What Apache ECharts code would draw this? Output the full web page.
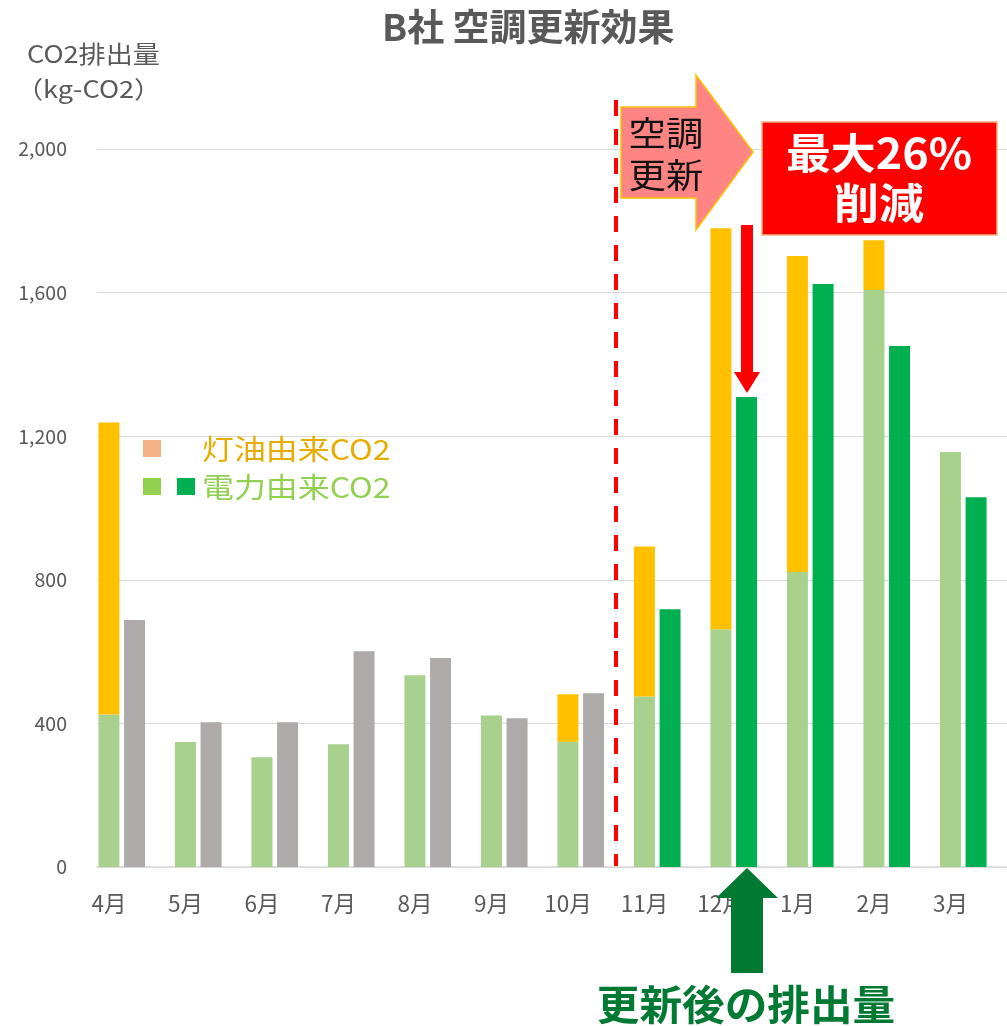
<!DOCTYPE html>
<html>
<head>
<meta charset="utf-8">
<script src="https://cdn.jsdelivr.net/npm/echarts@6/dist/echarts.min.js"></script>
<style>
  html, body { margin: 0; padding: 0; background: #fff; }
  #chart { width: 1007px; height: 1026px; }
</style>
</head>
<body>
<div id="chart"></div>
<script>
// 月（年度：4月〜3月）
const months = ['4月', '5月', '6月', '7月', '8月', '9月', '10月', '11月', '12月', '1月', '2月', '3月']
// 電力由来CO2（左の棒・下段）
const electricity = [425, 348, 306, 342, 534, 422, 349, 475, 662, 822, 1607, 1156]
// 灯油由来CO2（左の棒・上段）
const kerosene = [813, null, null, null, null, null, 132, 418, 1117, 880, 139, null]
// 右の棒：更新前（前年）と更新後
const beforeUpdate = [688, 403, 403, 601, 582, 414, 484, null, null, null, null, null]
const afterUpdate = [null, null, null, null, null, null, null, 718, 1309, 1624, 1451, 1030]

const FONT = '"Noto Sans CJK JP", "Noto Sans", sans-serif'
const GRAY_TEXT = '#595959'

const chart = echarts.init(document.getElementById('chart'))

// 横に少し広い元画像の文字に合わせるためのテキスト
const label = (x, y, text, font, fill, extra) => Object.assign({
  type: 'text', x, y, z: 10,
  style: { text, font: font + ' ' + FONT, fill }
}, extra)

const option = {
  animation: false,
  textStyle: { fontFamily: FONT },
  title: {
    text: 'B社 空調更新効果',
    left: 377,
    top: 3,
    textStyle: { fontSize: 37, fontWeight: 'bold', color: GRAY_TEXT, fontFamily: FONT }
  },
  grid: [
    // 目盛線用
    { left: 97, right: 0, top: 149, bottom: 159 },
    // 棒用
    { left: 83.5, right: 5.5, top: 149, bottom: 159 }
  ],
  xAxis: [
    {
      gridIndex: 0,
      type: 'category',
      data: months,
      axisLabel: { show: false },
      axisTick: { show: false },
      axisLine: { lineStyle: { color: '#d9d9d9', width: 1.5 } }
    },
    {
      gridIndex: 1,
      type: 'category',
      data: months,
      axisLine: { show: false },
      axisTick: { show: false },
      axisLabel: {
        color: GRAY_TEXT,
        fontSize: 22.5,
        margin: 25,
        padding: [0, 25.6, 0, 0]
      }
    }
  ],
  yAxis: [
    {
      gridIndex: 0,
      type: 'value',
      min: 0,
      max: 2000,
      interval: 400,
      axisLine: { show: false },
      axisTick: { show: false },
      axisLabel: {
        color: GRAY_TEXT,
        fontSize: 19.5,
        margin: 30,
        formatter: v => v.toLocaleString('en-US')
      },
      splitLine: { lineStyle: { color: '#d9d9d9', width: 1 } }
    },
    {
      gridIndex: 1,
      type: 'value',
      min: 0,
      max: 2000,
      show: false,
      splitLine: { show: false }
    }
  ],
  series: [
    {
      name: '電力由来CO2',
      type: 'bar',
      xAxisIndex: 1,
      yAxisIndex: 1,
      stack: 'left',
      barWidth: 21,
      barGap: '22%',
      itemStyle: { color: '#A9D18E' },
      data: electricity
    },
    {
      name: '灯油由来CO2',
      type: 'bar',
      xAxisIndex: 1,
      yAxisIndex: 1,
      stack: 'left',
      barWidth: 21,
      itemStyle: { color: '#FFC000' },
      data: kerosene
    },
    {
      name: '更新前',
      type: 'bar',
      xAxisIndex: 1,
      yAxisIndex: 1,
      stack: 'right',
      barWidth: 21,
      itemStyle: { color: '#AEAAAA' },
      data: beforeUpdate
    },
    {
      name: '更新後',
      type: 'bar',
      xAxisIndex: 1,
      yAxisIndex: 1,
      stack: 'right',
      barWidth: 21,
      itemStyle: { color: '#00B050' },
      data: afterUpdate
    }
  ],
  graphic: [
    // 縦軸の単位
    label(27, 42, 'CO2排出量', '24px', GRAY_TEXT, { scaleX: 1.13 }),
    label(16, 77, '（kg-CO2）', '24px', GRAY_TEXT, { scaleX: 1.13 }),
    // 凡例
    { type: 'rect', shape: { x: 143, y: 440, width: 18, height: 17 }, style: { fill: '#F4B183' } },
    label(202, 449, '灯油由来CO2', '28px', '#E8AC00', { scaleX: 1.14 }),
    { type: 'rect', shape: { x: 143, y: 478, width: 18, height: 17 }, style: { fill: '#92D050' } },
    { type: 'rect', shape: { x: 177, y: 478, width: 18, height: 17 }, style: { fill: '#00B050' } },
    label(202, 487, '電力由来CO2', '28px', '#92D050', { scaleX: 1.14 }),
    // 空調更新の区切り線
    {
      type: 'line', z: 5,
      shape: { x1: 616, y1: 100, x2: 616, y2: 866 },
      style: { stroke: '#FF0000', lineWidth: 4, lineDash: [16, 13] }
    },
    // 空調更新 矢印
    {
      type: 'polygon', z: 6,
      shape: { points: [[621, 107], [696, 107], [696, 75], [753, 152], [696, 230], [696, 198], [621, 198]] },
      style: { fill: '#FF8585', stroke: '#FFC000', lineWidth: 1.5 }
    },
    label(666, 133, '空調', '34px', '#111', { scaleX: 1.1, z: 7 }),
    label(666, 175, '更新', '34px', '#111', { scaleX: 1.1, z: 7 }),
    // 削減の矢印
    {
      type: 'polygon', z: 6,
      shape: { points: [[741, 225], [753, 225], [753, 372], [760, 372], [747, 393], [734, 372], [741, 372]] },
      style: { fill: '#FF0000' }
    },
    // 最大26%削減
    {
      type: 'rect', z: 7,
      shape: { x: 762, y: 122, width: 235, height: 113 },
      style: { fill: '#FF0000', stroke: '#F4B183', lineWidth: 1.5 }
    },
    label(879, 153, '最大26%', 'bold 42px', '#fff', { scaleX: 1.07, z: 8 }),
    label(879, 203, '削減', 'bold 42px', '#fff', { scaleX: 1.07, z: 8 }),
    // 更新後の排出量 矢印
    {
      type: 'polygon', z: 6,
      shape: { points: [[747, 868], [778, 898], [763, 898], [763, 973], [731, 973], [731, 898], [716, 898]] },
      style: { fill: '#007A33' }
    },
    label(746, 1004, '更新後の排出量', 'bold 41px', '#007A33', { scaleX: 1.04, z: 7 })
  ]
}

// 中央寄せのテキスト
option.graphic.forEach(g => {
  if (g.type === 'text') {
    const centered = g.x > 600
    g.style.align = centered ? 'center' : 'left'
    g.style.verticalAlign = (centered || g.y > 400) ? 'middle' : 'top'
  }
})

chart.setOption(option)
</script>
</body>
</html>
